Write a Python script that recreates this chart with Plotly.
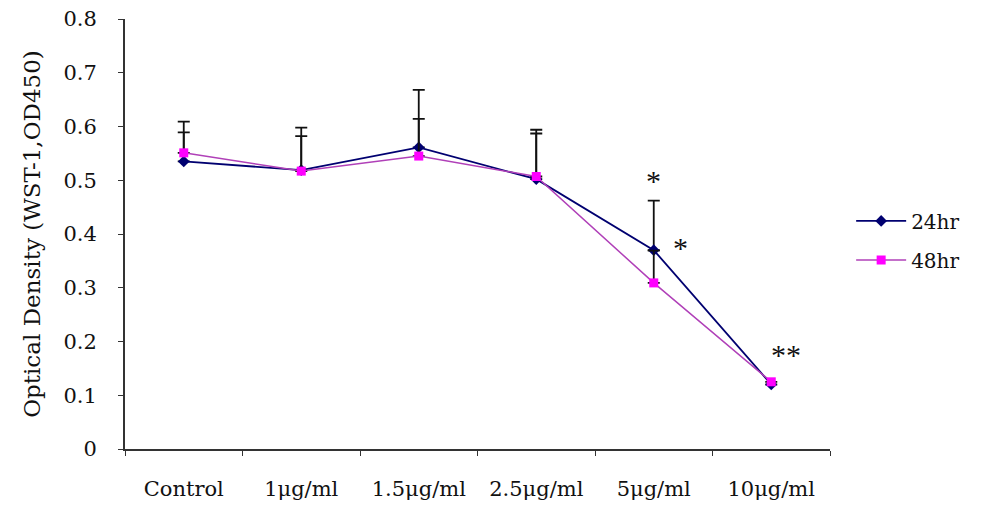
import plotly.graph_objects as go

categories = ["Control", "1\u03bcg/ml", "1.5\u03bcg/ml", "2.5\u03bcg/ml", "5\u03bcg/ml", "10\u03bcg/ml"]
od_24hr = [0.535, 0.519, 0.561, 0.502, 0.370, 0.120]
err_24hr = [0.074, 0.079, 0.107, 0.092, 0.092, 0.0]
od_48hr = [0.551, 0.517, 0.545, 0.507, 0.309, 0.125]
err_48hr = [0.038, 0.065, 0.069, 0.080, 0.060, 0.0]
y_ticks = [0, 0.1, 0.2, 0.3, 0.4, 0.5, 0.6, 0.7, 0.8]

font_family = "DejaVu Serif, serif"
star_font = "Liberation Serif, Times New Roman, serif"

fig = go.Figure()
fig.add_trace(go.Scatter(
    x=categories, y=od_24hr, name="24hr", mode="lines+markers", legendgroup="a",
    line=dict(color="#000070", width=1.8),
    marker=dict(symbol="diamond", size=9, color="#000070"),
    error_y=dict(type="data", symmetric=False, array=err_24hr,
                 arrayminus=[0] * len(err_24hr), color="#111111",
                 thickness=1.8, width=6),
))
fig.add_trace(go.Scatter(
    x=categories, y=od_48hr, name="48hr", mode="lines+markers", legendgroup="b",
    line=dict(color="#B040B8", width=1.5),
    marker=dict(symbol="square", size=9, color="#FF00FF"),
    error_y=dict(type="data", symmetric=False, array=err_48hr,
                 arrayminus=[0] * len(err_48hr), color="#111111",
                 thickness=1.8, width=6),
))

annotations = [
    dict(x=categories[4], y=0.50, text="*", xshift=0),
    dict(x=categories[4], y=0.374, text="*", xshift=27),
    dict(x=categories[5], y=0.175, text="**", xshift=15),
]
for a in annotations:
    a.update(xref="x", yref="y", showarrow=False,
             font=dict(family=star_font, size=30, color="#111111"))

fig.update_layout(
    width=968, height=497,
    margin=dict(l=117, r=146, t=11, b=56, autoexpand=False),
    paper_bgcolor="white", plot_bgcolor="white",
    font=dict(family=font_family, size=20, color="#111111"),
    showlegend=True,
    legend=dict(x=1.03, y=0.485, xanchor="left", yanchor="middle",
                font=dict(family=font_family, size=20, color="#111111"),
                bgcolor="rgba(0,0,0,0)", tracegroupgap=10, traceorder="grouped",
                itemwidth=50),
    annotations=annotations,
    xaxis=dict(
        type="category", range=[-0.5, 5.5], automargin=False,
        showline=True, linecolor="#333333", linewidth=2,
        ticks="outside", tickson="boundaries", ticklen=5, tickcolor="#333333",
        tickfont=dict(family=font_family, size=21),
        ticklabelstandoff=20, showgrid=False, zeroline=False,
    ),
    yaxis=dict(
        range=[0, 0.8], tickvals=y_ticks, ticktext=[f"{v:g}" for v in y_ticks],
        automargin=False, ticklabeloverflow="allow",
        showline=True, linecolor="#333333", linewidth=2,
        ticks="outside", ticklen=5, tickcolor="#333333",
        tickfont=dict(family=font_family, size=21),
        ticklabelstandoff=17, showgrid=False, zeroline=False,
        title=dict(text="Optical Density (WST-1,OD450)", standoff=16,
                   font=dict(family=font_family, size=23)),
    ),
)

fig.write_html("out.html")
